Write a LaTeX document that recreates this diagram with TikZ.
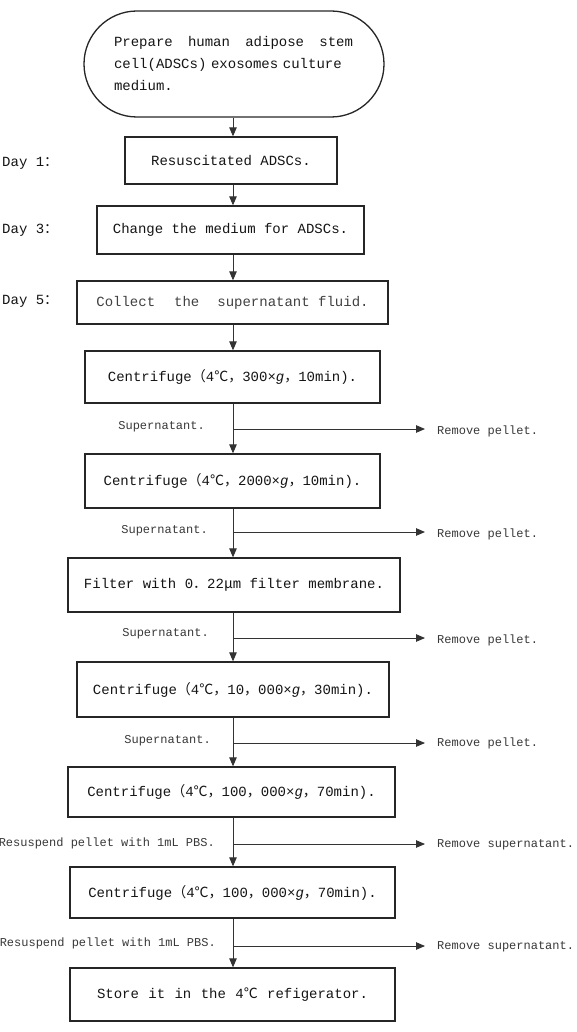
\documentclass[tikz,border=0pt]{standalone}
\usepackage{fontspec}
\setmainfont{Liberation Mono}
\newfontfamily\cjk{Noto Sans CJK SC}
\newcommand\cj[1]{{\cjk #1}}
\usetikzlibrary{arrows.meta,shapes.misc}
\begin{document}
\begin{tikzpicture}[x=1pt,y=-1pt,
  box/.style={draw=black!85,line width=1.3pt,inner sep=0pt,font=\fontsize{14}{22}\selectfont,text=black!92},
  arr/.style={draw=black!80,line width=0.9pt,-{Triangle[length=9pt,width=7.5pt]}},
  lab/.style={font=\fontsize{12}{14}\selectfont,text=black!78,inner sep=0pt},
  day/.style={font=\fontsize{14}{16}\selectfont,text=black!92,inner sep=0pt,anchor=west}]
\useasboundingbox (0,0) rectangle (576,1032);
\coordinate (sp) at (233,0);
% start
\node[box,rounded rectangle,minimum width=300,minimum height=106,text width=240,align=left] (s0) at (234,64)
  {\makebox[239pt][l]{Prepare\hfill human\hfill adipose\hfill stem}\\cell(ADSCs) exosomes culture\\medium.};
\node[box,minimum width=212,minimum height=47] (b1) at (231,160.5) {Resuscitated ADSCs.};
\node[box,minimum width=267,minimum height=48] (b2) at (230.5,230) {Change the medium for ADSCs.};
\node[box,minimum width=311,minimum height=43,text=black!75] (b3) at (232.5,302.5) {Collect\hspace{19pt}the\hspace{18pt}supernatant fluid.};
\node[box,minimum width=295,minimum height=52] (b4) at (232.5,377) {Centrifuge\cj{（}4\cj{℃，}300×\textit{g}\cj{，}10min).\hspace{14pt}};
\node[box,minimum width=295,minimum height=54] (b5) at (232.5,481) {Centrifuge\cj{（}4\cj{℃，}2000×\textit{g}\cj{，}10min).\hspace{14pt}};
\node[box,minimum width=332,minimum height=54] (b6) at (234,585) {Filter with 0\cj{．}22\cj{μ}m filter membrane.};
\node[box,minimum width=312,minimum height=55] (b7) at (233,689.5) {Centrifuge\cj{（}4\cj{℃，}10\cj{，}000×\textit{g}\cj{，}30min).\hspace{20pt}};
\node[box,minimum width=327,minimum height=50] (b8) at (231.5,792) {Centrifuge\cj{（}4\cj{℃，}100\cj{，}000×\textit{g}\cj{，}70min).\hspace{20pt}};
\node[box,minimum width=325,minimum height=51] (b9) at (232.5,892.5) {Centrifuge\cj{（}4\cj{℃，}100\cj{，}000×\textit{g}\cj{，}70min).\hspace{10pt}};
\node[box,minimum width=325,minimum height=53] (b10) at (232.5,994.5) {\makebox[271pt]{Store\hfill it\hfill in\hfill the\hfill 4\cj{℃}\hfill refigerator.}\hspace{18pt}};
% day labels
\node[day] (d1) at (2,163) {Day 1\cj{：}};
\node[day] (d3) at (2,230) {Day 3\cj{：}};
\node[day] (d5) at (2,301) {Day 5\cj{：}};
% main arrows
\draw[arr] (s0.south -| sp) -- (b1.north -| sp);
\draw[arr] (b1.south -| sp) -- (b2.north -| sp);
\draw[arr] (b2.south -| sp) -- (b3.north -| sp);
\draw[arr] (b3.south -| sp) -- (b4.north -| sp);
\draw[arr] (b4.south -| sp) -- (b5.north -| sp);
\draw[arr] (b5.south -| sp) -- (b6.north -| sp);
\draw[arr] (b6.south -| sp) -- (b7.north -| sp);
\draw[arr] (b7.south -| sp) -- (b8.north -| sp);
\draw[arr] (b8.south -| sp) -- (b9.north -| sp);
\draw[arr] (b9.south -| sp) -- (b10.north -| sp);
% branches
\coordinate (k1) at (233,429);
\coordinate (k2) at (233,532);
\coordinate (k3) at (233,638);
\coordinate (k4) at (233,743);
\coordinate (k5) at (233,844);
\coordinate (k6) at (233,946);
\node[lab,anchor=east] (l1) at (205,427) {Supernatant.};
\node[lab,anchor=east] (l2) at (208,531) {Supernatant.};
\node[lab,anchor=east] (l3) at (209,634) {Supernatant.};
\node[lab,anchor=east] (l4) at (211,741) {Supernatant.};
\node[lab,anchor=east] (l5) at (215,843) {Resuspend pellet with 1mL PBS.};
\node[lab,anchor=east] (l6) at (216,943) {Resuspend pellet with 1mL PBS.};
\node[lab,anchor=west] (r1) at (437,431) {Remove pellet.};
\node[lab,anchor=west] (r2) at (437,534) {Remove pellet.};
\node[lab,anchor=west] (r3) at (437,640) {Remove pellet.};
\node[lab,anchor=west] (r4) at (437,743) {Remove pellet.};
\node[lab,anchor=west] (r5) at (437,845) {Remove supernatant.};
\node[lab,anchor=west] (r6) at (437,947) {Remove supernatant.};
\draw[arr] (k1) -- ([xshift=-12pt]r1.west |- k1);
\draw[arr] (k2) -- ([xshift=-12pt]r2.west |- k2);
\draw[arr] (k3) -- ([xshift=-12pt]r3.west |- k3);
\draw[arr] (k4) -- ([xshift=-12pt]r4.west |- k4);
\draw[arr] (k5) -- ([xshift=-12pt]r5.west |- k5);
\draw[arr] (k6) -- ([xshift=-12pt]r6.west |- k6);
\end{tikzpicture}
\end{document}
